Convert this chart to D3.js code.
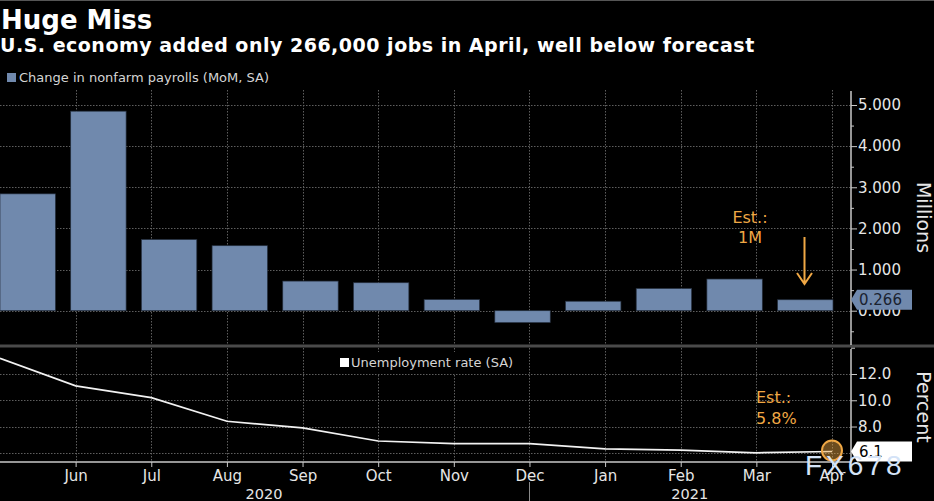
<!DOCTYPE html>
<html><head><meta charset="utf-8">
<script src="https://cdn.jsdelivr.net/npm/d3@7"></script>
<style>
html,body{margin:0;padding:0;background:#000;overflow:hidden}
svg{display:block}
text{font-family:"DejaVu Sans",sans-serif}
</style></head><body>
<svg id="c" width="934" height="501"></svg>
<script>
const months=["May","Jun","Jul","Aug","Sep","Oct","Nov","Dec","Jan","Feb","Mar","Apr"];
const payrolls=[2.84,4.85,1.73,1.58,0.72,0.68,0.27,-0.29,0.23,0.54,0.77,0.266];
const unemployment=[13.2,11.1,10.2,8.4,7.9,6.9,6.7,6.7,6.3,6.2,6.0,6.1];
const barTicks=[0,1,2,3,4,5];
const barMinor=[-0.5,0.5,1.5,2.5,3.5,4.5];
const rateTicks=[6,8,10,12];
const rateMinor=[14];
const labelledMonths=months.slice(1);
const years=[{label:"2020",month:"Aug",dx:37},{label:"2021",month:"Feb",dx:9}];
const yearBreaks=["Dec"];
const title="Huge Miss";
const subtitle="U.S. economy added only 266,000 jobs in April, well below forecast";

const svg=d3.select("#c");
const BLUE="#7089ad",ORANGE="#f0a845",GRID="#5e5e5e",AXIS="#c8c8c8",TXT="#e6e6e6";
const W=851;

const x=d3.scalePoint().domain(months).range([0,832]);
const xBar=d3.scaleBand().domain(months).range([0,833]).paddingInner(0.216).paddingOuter(0);
const yBar=d3.scaleLinear().domain([0,5]).range([310.7,105]);
const yRate=d3.scaleLinear().domain([6,12]).range([452.8,374]);

svg.append("rect").attr("width",934).attr("height",501).attr("fill","#000");
svg.append("line").attr("x1",0).attr("x2",934).attr("y1",0.5).attr("y2",0.5).attr("stroke","#555");

function hgrid(vals,y){
  svg.append("g").selectAll("line").data(vals).join("line")
   .attr("x1",0).attr("x2",W).attr("y1",d=>Math.round(y(d))+.5).attr("y2",d=>Math.round(y(d))+.5)
   .attr("stroke",GRID).attr("stroke-dasharray","1.5,1.5");
}
hgrid(barTicks,yBar);
hgrid(rateTicks,yRate);
svg.append("g").selectAll("line").data(labelledMonths).join("line")
  .attr("x1",d=>Math.round(x(d))+.5).attr("x2",d=>Math.round(x(d))+.5).attr("y1",90).attr("y2",462)
  .attr("stroke",GRID).attr("stroke-dasharray","1.5,1.5");

svg.append("g").selectAll("rect").data(months).join("rect")
  .attr("x",d=>xBar(d)).attr("width",xBar.bandwidth())
  .attr("y",(d,i)=>yBar(Math.max(0,payrolls[i])))
  .attr("height",(d,i)=>Math.abs(yBar(payrolls[i])-yBar(0)))
  .attr("fill",BLUE).attr("stroke","#26303f").attr("stroke-width",.7);

svg.append("rect").attr("x",0).attr("y",344.5).attr("width",934).attr("height",3).attr("fill","#4a4a4a");

const line=d3.line().x((d,i)=>x(months[i])).y(d=>yRate(d));
svg.append("path").datum(unemployment).attr("d",line).attr("fill","none").attr("stroke","#f2f2f2").attr("stroke-width",1.7);

function styleAxis(g){
  g.selectAll("path").attr("stroke",AXIS).attr("stroke-width",1.5);
  g.selectAll("line").attr("stroke",AXIS);
  g.selectAll("text").attr("fill",TXT).style("font-family",'"DejaVu Sans",sans-serif').style("font-size","15px");
}
const a1=svg.append("g").attr("transform",`translate(${W},0)`)
 .call(d3.axisRight(yBar).tickValues(barTicks).tickFormat(d3.format(".3f")).tickSize(6).tickPadding(1).tickSizeOuter(0));
styleAxis(a1);
a1.select("path").attr("d","M0,91V345");
const a1m=svg.append("g").attr("transform",`translate(${W},0)`)
 .call(d3.axisRight(yBar).tickValues(barMinor).tickFormat("").tickSize(3).tickSizeOuter(0));
styleAxis(a1m); a1m.select("path").remove();

const a2=svg.append("g").attr("transform",`translate(${W},0)`)
 .call(d3.axisRight(yRate).tickValues(rateTicks.slice(1)).tickFormat(d3.format(".1f")).tickSize(6).tickPadding(1).tickSizeOuter(0));
styleAxis(a2);
a2.select("path").attr("d","M0,349V462");
const a2m=svg.append("g").attr("transform",`translate(${W},0)`)
 .call(d3.axisRight(yRate).tickValues(rateMinor).tickFormat("").tickSize(4).tickSizeOuter(0));
styleAxis(a2m); a2m.select("path").remove();

const a3=svg.append("g").attr("transform","translate(0,462)")
 .call(d3.axisBottom(x).tickValues(labelledMonths).tickSize(5).tickPadding(3).tickSizeOuter(0));
styleAxis(a3);
a3.select("path").attr("d",`M0,0H${W}`);
a3.selectAll("text").style("font-size","15px");

svg.append("g").selectAll("line").data(yearBreaks).join("line")
 .attr("x1",d=>Math.round(x(d))+.5).attr("x2",d=>Math.round(x(d))+.5).attr("y1",482).attr("y2",501)
 .attr("stroke","#8a8a8a");

svg.append("g").selectAll("text").data(years).join("text")
 .attr("x",d=>x(d.month)+d.dx).attr("y",499).attr("text-anchor","middle")
 .attr("fill",TXT).attr("font-size",14.5).text(d=>d.label);

svg.append("text").attr("x",1).attr("y",28.5).attr("fill","#fff").attr("font-weight","bold").attr("font-size",26).text(title);
svg.append("text").attr("x",0).attr("y",52).attr("fill","#fff").attr("font-weight","bold").attr("font-size",19).attr("letter-spacing",.5).text(subtitle);

svg.append("rect").attr("x",7).attr("y",73).attr("width",9).attr("height",9).attr("fill",BLUE);
svg.append("text").attr("x",19).attr("y",82).attr("fill","#d5d5d5").attr("font-size",13).text("Change in nonfarm payrolls (MoM, SA)");
svg.append("rect").attr("x",332).attr("y",352).attr("width",186).attr("height",22).attr("fill","#000");
svg.append("rect").attr("x",340).attr("y",358).attr("width",9).attr("height",9).attr("fill","#fff");
svg.append("text").attr("x",351).attr("y",367).attr("fill","#d5d5d5").attr("font-size",13).text("Unemployment rate (SA)");

function rot(t,cy){svg.append("text").attr("transform",`translate(917,${cy}) rotate(90)`).attr("text-anchor","middle")
  .attr("fill",TXT).attr("font-size",19).text(t);}
rot("Millions",217.5); rot("Percent",407);

const ann=(t,xx,yy,anchor)=>svg.append("text").attr("x",xx).attr("y",yy).attr("text-anchor",anchor).attr("fill",ORANGE).attr("font-size",16).text(t);
ann("Est.:",750,223,"middle"); ann("1M",750,243,"middle");
ann("Est.:",756,403,"start"); ann("5.8%",756,424,"start");
svg.append("path").attr("d","M804.5,237V283M797,273L804.5,284L812,273").attr("fill","none").attr("stroke",ORANGE).attr("stroke-width",2);

function tag(yv,fill,col,t){
  svg.append("path").attr("d",`M851,${yv}L857,${yv-10}H912V${yv+10}H857Z`).attr("fill",fill);
  svg.append("text").attr("x",859).attr("y",yv+5.5).attr("fill",col).attr("font-size",15).text(t);
}
tag(yBar(payrolls[11]),BLUE,"#1a2230",d3.format(".3f")(payrolls[11]));
tag(yRate(unemployment[11]),"#fff","#000",d3.format(".1f")(unemployment[11]));
svg.append("circle").attr("cx",x("Apr")).attr("cy",yRate(unemployment[11])-1).attr("r",10)
  .attr("fill",ORANGE).attr("fill-opacity",.45).attr("stroke",ORANGE).attr("stroke-width",2);

svg.append("text").attr("x",805).attr("y",475).attr("fill","#d4e3f7").attr("font-size",28)
  .attr("letter-spacing",3.5).style("font-family",'"Liberation Sans",sans-serif').text("FX678");
</script>
</body></html>
